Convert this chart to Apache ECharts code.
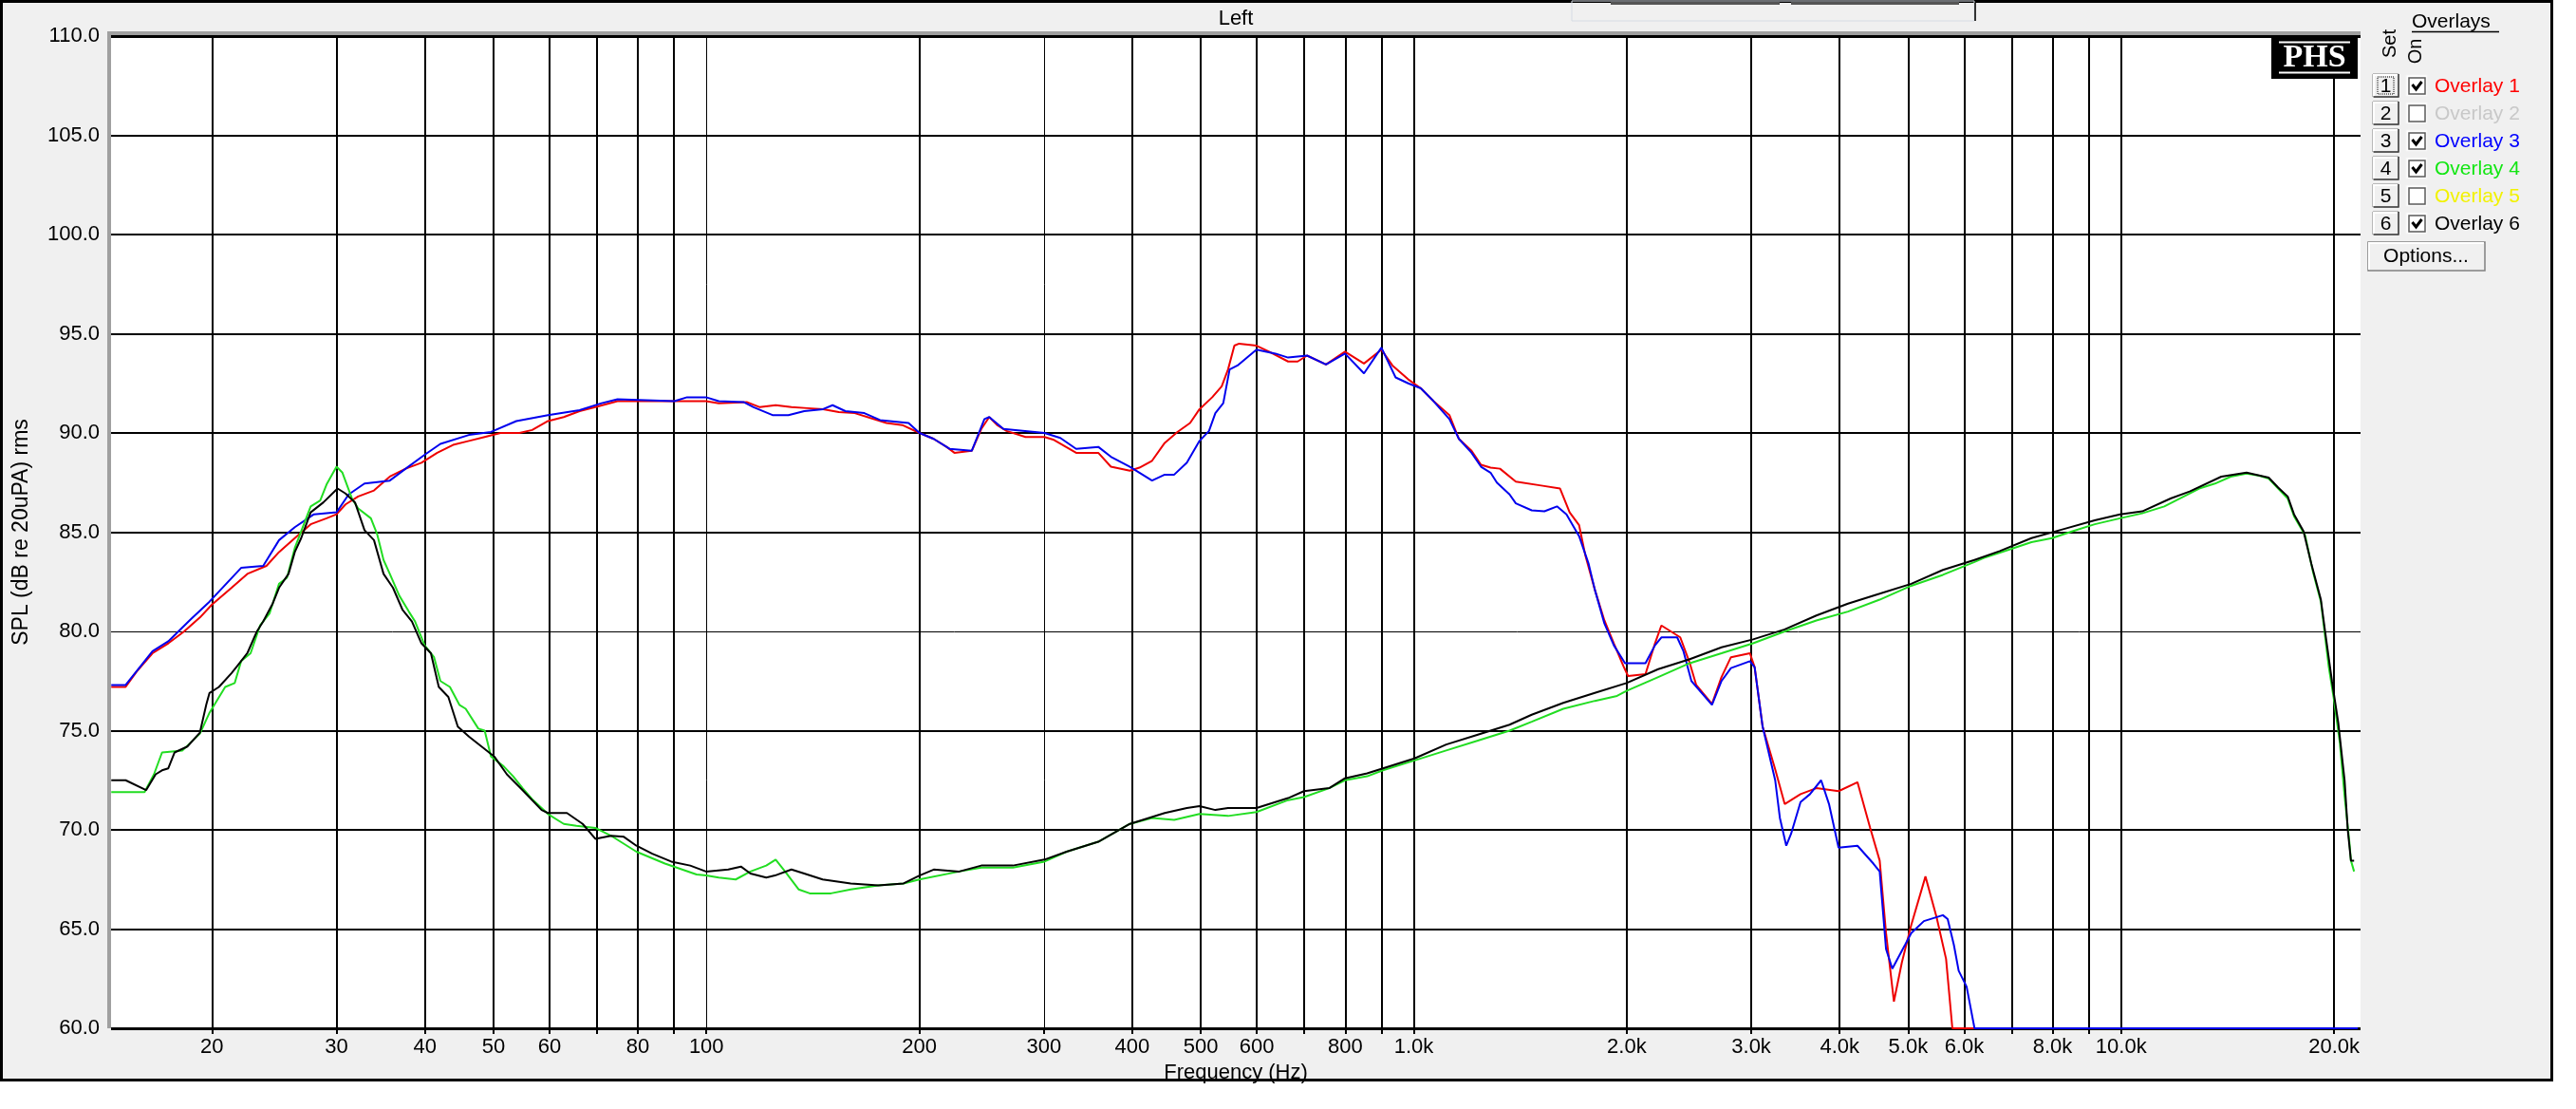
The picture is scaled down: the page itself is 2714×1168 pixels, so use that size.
<!DOCTYPE html>
<html>
<head>
<meta charset="utf-8">
<script src="https://cdn.jsdelivr.net/npm/echarts@6/dist/echarts.min.js"></script>
<style>
html,body{margin:0;padding:0;background:#fff;}
#chart{width:2714px;height:1168px;}
</style>
</head>
<body>
<div id="chart"></div>
<script>
// ---------------- DATA ----------------
// Overlay 1 (red)
const ov1Freq = [14.41,15.1,15.65,16.48,17.35,18.27,19.23,20.0,21.32,22.44,23.88,24.88,26.19,27.58,29.04,30.0,30.89,32.19,33.89,35.68,37.57,39.55,41.64,43.84,46.16,48.59,51.16,54.42,56.71,59.71,62.86,66.18,69.66,74.87,87.38,99.89,104.1,114.2,119.0,125.3,131.9,138.9,146.2,153.9,162.1,170.6,179.7,189.2,200.1,209.6,218.5,224.2,237.2,244.7,251.1,257.6,265.7,282.6,300.6,310,333.2,358.1,373.1,396.9,409.4,426.6,444.6,463.3,482.8,497.9,518.9,535.2,546.3,557.7,566.4,599.3,624.5,664.3,685.2,706.6,751.5,799.4,850.4,900,933,982.2,1023.5,1066.6,1123,1158.3,1207,1244.7,1283.9,1324,1394,1514,1610,1661,1713,1749,1803,1860,1918,1979,2009,2126,2193,2239,2309,2381,2456,2508,2640,2723,2808,2987,3033,3113,3243,3345,3522,3708,3986,4239,4418,4557,4652,4773,4897,5050,5289,5484,5656,5773,21600];
const ov1Spl  = [77.2,77.2,77.97,78.9,79.4,80.0,80.7,81.35,82.2,82.9,83.3,84.0,84.7,85.4,85.7,85.9,86.4,86.8,87.1,87.8,88.2,88.5,89.0,89.4,89.6,89.8,90.0,90.0,90.15,90.6,90.8,91.1,91.3,91.6,91.6,91.6,91.5,91.55,91.3,91.4,91.3,91.25,91.2,91.05,91.0,90.75,90.5,90.4,90.0,89.7,89.3,89.0,89.1,90.2,90.8,90.4,90.1,89.8,89.8,89.65,89.0,89.0,88.3,88.1,88.25,88.6,89.5,90.05,90.5,91.2,91.8,92.35,93.2,94.4,94.5,94.4,94.1,93.6,93.6,93.9,93.45,94.1,93.5,94.2,93.4,92.7,92.25,91.6,90.9,89.7,89.1,88.4,88.25,88.2,87.55,87.35,87.2,86.0,85.35,83.8,82.1,80.55,79.4,78.25,77.75,77.85,79.4,80.3,80.0,79.7,78.4,77.3,76.35,77.7,78.7,78.9,78.2,75.2,73.05,71.3,71.8,72.1,71.95,72.4,70.1,68.45,64.8,61.35,63.3,65.2,67.65,65.6,63.5,60.0,60.0];

// Overlay 3 (blue)
const ov3Freq = [14.41,15.1,15.65,16.48,17.35,18.65,19.84,21.99,23.63,24.88,26.19,27.87,30.0,31.21,32.86,35.68,37.57,39.96,42.07,46.16,49.6,53.86,59.71,66.18,71.11,74.87,90.11,93.9,99.89,104.1,113.0,116.6,124.0,130.6,137.5,146.2,150.8,157.2,167.2,176.0,193.1,200.1,209.6,220.7,237.2,247.2,251.1,263.0,300.6,316.5,333.2,358.1,373.1,396.9,426.6,444.6,458.5,477.8,497.9,513.5,524.2,537.9,549.1,563.4,599.3,637.5,664.3,706.6,751.5,799.4,850.4,900,942.6,982.2,1023.5,1066.6,1123,1158.3,1207,1244.7,1283.9,1310.6,1366,1394,1468,1530,1594,1644,1713,1767,1803,1860,1918,1989,2126,2193,2239,2357,2406,2469,2640,2723,2808,2987,3033,3113,3243,3293,3362,3415,3522,3632,3766,3864,3986,4239,4464,4557,4652,4748,4948,5050,5262,5598,5686,5802,5893,6047,6205,21600];
const ov3Spl  = [77.3,77.3,78.0,79.0,79.5,80.6,81.5,83.2,83.3,84.6,85.25,85.9,86.0,86.9,87.45,87.6,88.2,88.9,89.45,89.9,90.05,90.6,90.9,91.15,91.5,91.7,91.6,91.8,91.8,91.6,91.55,91.3,90.9,90.9,91.1,91.2,91.4,91.1,91.0,90.65,90.5,90.0,89.7,89.2,89.1,90.7,90.8,90.2,90.0,89.75,89.2,89.3,88.8,88.3,87.6,87.9,87.9,88.5,89.6,90.1,91.0,91.5,93.2,93.4,94.2,94.0,93.8,93.9,93.45,94.0,93.0,94.3,92.8,92.5,92.25,91.6,90.7,89.7,89.0,88.3,88.0,87.5,86.9,86.45,86.1,86.05,86.3,85.9,84.8,83.4,82.1,80.4,79.3,78.4,78.4,79.3,79.7,79.7,79.0,77.5,76.3,77.5,78.15,78.5,78.2,75.2,72.5,70.6,69.2,69.8,71.4,71.8,72.5,71.3,69.1,69.2,68.3,67.9,64.0,63.0,64.2,64.8,65.4,65.7,65.5,64.2,62.9,62.1,60.0,60.0];

// Overlay 4 (green)
const ov4Freq = [14.41,16.06,16.56,17.0,18.17,19.23,19.84,20.88,21.54,21.99,22.68,23.39,24.12,24.88,25.53,26.19,27.58,28.45,29.04,30.0,30.58,31.54,32.19,33.55,34.24,34.96,35.68,36.8,37.96,38.74,39.96,41.21,42.07,43.39,44.75,45.68,47.6,48.59,49.6,51.69,53.31,54.98,56.71,59.71,62.86,65.5,69.66,73.34,79.63,87.38,96.85,99.89,104.1,110,115.4,121.5,125.3,129.2,135,140,150,160,175,190,200,227.7,244.7,271.2,300.6,323,358.1,396.9,426.6,458.5,497.9,546.3,599.3,664.3,699.4,759.3,799.4,859.2,904.6,1002.6,1111.5,1232,1366,1468,1627,1803,1938,1999,2216,2456,2723,3018,3345,3708,4110,4557,5050,5598,6205,6399,6984,7468,7986,8538,9177,9964,10710,11508,12117,12893,13573,14290,15042,15675,16166,16674,17198,17556,18200,18673,19160,19660,19965,20380,20697,21020,21129,21348];
const ov4Spl  = [71.9,71.9,72.8,73.9,74.0,74.85,75.9,77.2,77.4,78.5,78.9,80.3,80.9,82.4,82.7,84.2,86.3,86.6,87.4,88.3,88.0,86.7,86.2,85.7,84.9,83.6,82.9,81.8,81.0,80.5,79.3,78.7,77.5,77.2,76.3,76.1,75.1,75.0,73.7,73.2,72.7,72.1,71.55,70.8,70.3,70.2,70.1,69.7,68.9,68.3,67.75,67.7,67.6,67.5,67.9,68.2,68.5,67.9,67.0,66.8,66.8,67.0,67.2,67.3,67.5,67.9,68.1,68.1,68.4,68.9,69.4,70.3,70.6,70.5,70.8,70.7,70.9,71.5,71.65,72.1,72.5,72.7,73.0,73.5,74.0,74.5,75.0,75.45,76.1,76.5,76.75,77.0,77.7,78.4,78.9,79.4,80.0,80.55,81.0,81.6,82.3,82.85,83.5,83.7,84.15,84.5,84.7,85.05,85.4,85.7,85.95,86.3,86.7,87.2,87.45,87.8,87.95,87.85,87.7,87.2,86.7,85.8,84.85,83.0,81.5,78.2,76.7,74.4,71.7,69.4,68.45,67.9];

// Overlay 6 (black)
const ov6Freq = [14.41,15.1,16.14,16.65,17.0,17.35,17.71,18.46,19.23,19.63,19.84,20.46,21.32,21.76,22.44,23.15,23.63,24.37,24.88,25.66,26.19,26.74,27.58,28.74,30.1,30.89,31.86,32.86,33.89,34.96,36.05,37.18,38.35,39.55,40.79,41.85,43.17,44.52,46.16,48.1,50.12,52.23,54.98,58.49,59.71,63.51,66.85,69.66,73.34,76.43,79.63,83.84,89.19,94.87,99.89,107.4,111.9,115.4,121.5,125,131.9,137.5,146,160,175,190,200.1,209.6,227.7,244.7,271.2,300.6,323,358.1,396.9,444.6,477.8,497.9,524.2,546.3,599.3,664.3,699.4,759.3,799.4,859.2,904.6,1002.6,1111.5,1232,1366,1468,1627,1803,1999,2216,2456,2723,3018,3345,3708,4110,4557,5050,5598,6205,6737,7468,8280,9177,9964,10710,11748,12500,13855,15042,16166,16674,17198,17556,18107,18577,19160,19458,19862,20275,20697,20911,21129,21348];
const ov6Spl  = [72.5,72.5,72.0,72.8,73.0,73.1,73.9,74.2,74.9,76.3,76.9,77.2,77.9,78.3,78.9,80.0,80.5,81.4,82.2,82.9,84.0,84.7,86.0,86.5,87.2,86.95,86.5,85.1,84.6,82.9,82.2,81.1,80.5,79.4,78.9,77.2,76.7,75.2,74.7,74.2,73.7,72.8,72.0,71.0,70.85,70.85,70.3,69.55,69.7,69.65,69.2,68.8,68.4,68.2,67.9,68.0,68.15,67.8,67.6,67.7,68.0,67.8,67.5,67.3,67.2,67.3,67.7,68.0,67.9,68.2,68.2,68.5,68.9,69.4,70.3,70.85,71.1,71.2,71.0,71.1,71.1,71.6,71.95,72.1,72.6,72.85,73.1,73.6,74.3,74.8,75.3,75.8,76.4,76.9,77.4,78.1,78.6,79.2,79.6,80.1,80.8,81.4,81.9,82.4,83.1,83.6,84.05,84.7,85.15,85.6,85.9,86.05,86.7,87.05,87.8,88.0,87.75,87.25,86.8,85.9,85.05,83.4,81.6,79.8,77.5,75.4,72.5,70.0,68.45,68.45];

// Axis ticks
const xGridValues  = [20,30,40,50,60,70,80,90,100,200,300,400,500,600,700,800,900,1000,2000,3000,4000,5000,6000,7000,8000,9000,10000,20000];
const xLabelValues = [20,30,40,50,60,80,100,200,300,400,500,600,800,1000,2000,3000,4000,5000,6000,8000,10000,20000];
const xThinValues  = [100,300];
const yGridValues  = [60,65,70,75,80,85,90,95,100,105,110];
const yThinValues  = [80];

const overlayNames  = ['Overlay 1','Overlay 2','Overlay 3','Overlay 4','Overlay 5','Overlay 6'];
const overlayOn     = [true,false,true,true,false,true];
const overlayColors = ['#ff0000','#c8c8c8','#0000ff','#12e612','#f2f200','#000000'];

// ---------------- CHART ----------------
const zip = (a, b) => a.map((v, i) => [v, b[i]]);
const FONT = 'Liberation Sans, Arial, sans-serif';

const G = { left: 117, top: 38, width: 2370, height: 1045 };

const gridMarks = [];
xGridValues.forEach(v => gridMarks.push({ xAxis: v, lineStyle: { color: '#000', width: xThinValues.includes(v) ? 1 : 2, type: 'solid' } }));
yGridValues.forEach(v => gridMarks.push({ yAxis: v, lineStyle: { color: '#000', width: (v === 60 || v === 110) ? 3 : (yThinValues.includes(v) ? 1 : 2), type: 'solid' } }));

function fmtFreq(v) {
  const r = Math.round(v);
  return r >= 1000 ? (r / 1000).toFixed(1) + 'k' : String(r);
}

const graphics = [
  { type: 'rect', z: -2, shape: { x: 1.5, y: 1.5, width: 2687, height: 1136 }, style: { fill: '#f0f0f0', stroke: '#000', lineWidth: 3 } },
  { type: 'rect', z: -1, shape: { x: G.left, y: G.top, width: G.width, height: G.height }, style: { fill: '#fff' } },
  { type: 'rect', z: 50, shape: { x: 113, y: 33, width: G.width + 4, height: 4 }, style: { fill: '#a0a0a0' } },
  { type: 'rect', z: 50, shape: { x: 113, y: 33, width: 4, height: G.height + 5 }, style: { fill: '#a0a0a0' } },
  { type: 'text', z: 50, x: 1302, y: 20, style: { text: 'Left', font: '22px ' + FONT, fill: '#000', align: 'center', verticalAlign: 'middle' } },
  { type: 'rect', z: 50, shape: { x: 1656, y: 1, width: 424, height: 21 }, style: { fill: 'none', stroke: '#d6dce4', lineWidth: 1 } },
  { type: 'rect', z: 50, shape: { x: 1697, y: 2, width: 178, height: 3 }, style: { fill: '#555' } },
  { type: 'rect', z: 50, shape: { x: 1887, y: 2, width: 177, height: 3 }, style: { fill: '#555' } },
  { type: 'line', z: 50, shape: { x1: 2081, y1: 3, x2: 2081, y2: 22 }, style: { stroke: '#333', lineWidth: 2 } },
  // PHS logo
  { type: 'rect', z: 60, shape: { x: 2393, y: 39, width: 91, height: 44 }, style: { fill: '#000' } },
  { type: 'line', z: 61, shape: { x1: 2401, y1: 44.5, x2: 2476, y2: 44.5 }, style: { stroke: '#fff', lineWidth: 2 } },
  { type: 'line', z: 61, shape: { x1: 2401, y1: 76.5, x2: 2476, y2: 76.5 }, style: { stroke: '#fff', lineWidth: 2 } },
  { type: 'text', z: 61, x: 2438.5, y: 61, style: { text: 'PHS', font: 'bold 34px Liberation Serif, Times New Roman, serif', fill: '#fff', align: 'center', verticalAlign: 'middle' } },
  // Overlay panel
  { type: 'text', z: 60, x: 2541, y: 23, style: { text: 'Overlays', font: '21px ' + FONT, fill: '#000', align: 'left', verticalAlign: 'middle' } },
  { type: 'line', z: 60, shape: { x1: 2541, y1: 33.5, x2: 2633, y2: 33.5 }, style: { stroke: '#000', lineWidth: 1.5 } },
  { type: 'text', z: 60, x: 2518, y: 46, rotation: Math.PI / 2, style: { text: 'Set', font: '20px ' + FONT, fill: '#000', align: 'center', verticalAlign: 'middle' } },
  { type: 'text', z: 60, x: 2545, y: 54, rotation: Math.PI / 2, style: { text: 'On', font: '20px ' + FONT, fill: '#000', align: 'center', verticalAlign: 'middle' } }
];

overlayNames.forEach((name, i) => {
  const cy = 90 + i * 29;
  graphics.push({ type: 'rect', z: 60, shape: { x: 2500, y: cy - 12, width: 27, height: 24 }, style: { fill: '#f0f0f0', stroke: '#808080', lineWidth: 1 } });
  graphics.push({ type: 'polyline', z: 61, shape: { points: [[2501, cy + 11], [2501, cy - 11], [2526, cy - 11]] }, style: { stroke: '#fff', lineWidth: 2, fill: 'none' } });
  graphics.push({ type: 'polyline', z: 61, shape: { points: [[2501, cy + 12], [2527, cy + 12], [2527, cy - 12]] }, style: { stroke: '#404040', lineWidth: 1.5, fill: 'none' } });
  graphics.push({ type: 'text', z: 62, x: 2513.5, y: cy + 1, style: { text: String(i + 1), font: '21px ' + FONT, fill: '#000', align: 'center', verticalAlign: 'middle' } });
  if (i === 0) {
    graphics.push({ type: 'rect', z: 62, shape: { x: 2505, y: cy - 9, width: 17, height: 18 }, style: { fill: 'none', stroke: '#000', lineWidth: 1, lineDash: [1, 1] } });
  }
  graphics.push({ type: 'rect', z: 60, shape: { x: 2535, y: cy - 11, width: 22, height: 22 }, style: { fill: '#fff', stroke: '#f4f4f4', lineWidth: 1 } });
  graphics.push({ type: 'rect', z: 61, shape: { x: 2538, y: cy - 8, width: 17, height: 17 }, style: { fill: '#fff', stroke: '#5a5a5a', lineWidth: 1.5 } });
  if (overlayOn[i]) {
    graphics.push({ type: 'polyline', z: 62, shape: { points: [[2541.5, cy - 1], [2545.5, cy + 4], [2551.5, cy - 4]] }, style: { stroke: '#000', lineWidth: 3, fill: 'none' } });
  }
  graphics.push({ type: 'text', z: 60, x: 2565, y: cy + 1, style: { text: name, font: '21px ' + FONT, fill: overlayColors[i], align: 'left', verticalAlign: 'middle' } });
});
graphics.push({ type: 'rect', z: 60, shape: { x: 2495, y: 255, width: 123, height: 30 }, style: { fill: '#f0f0f0', stroke: '#808080', lineWidth: 1.5 } });
graphics.push({ type: 'polyline', z: 61, shape: { points: [[2496, 284], [2496, 256], [2617, 256]] }, style: { stroke: '#fff', lineWidth: 2, fill: 'none' } });
graphics.push({ type: 'text', z: 61, x: 2556, y: 270, style: { text: 'Options...', font: '21px ' + FONT, fill: '#000', align: 'center', verticalAlign: 'middle' } });

const lineSeries = (name, f, s, color, z) => ({
  name, type: 'line', data: zip(f, s), symbol: 'none', showSymbol: false, silent: true, z, clip: false,
  lineStyle: { color, width: 2 }, itemStyle: { color }, animation: false
});

const chart = echarts.init(document.getElementById('chart'), null, { renderer: 'canvas' });
chart.setOption({
  animation: false,
  backgroundColor: '#ffffff',
  grid: { left: G.left, top: G.top, width: G.width, height: G.height, containLabel: false, show: false },
  xAxis: {
    type: 'log', logBase: 10, min: 14.4, max: 21800,
    name: 'Frequency (Hz)', nameLocation: 'middle', nameGap: 34,
    nameTextStyle: { fontFamily: FONT, fontSize: 22, color: '#000' },
    axisLine: { show: false },
    axisTick: { show: true, customValues: xGridValues, length: 6, lineStyle: { color: '#000', width: 2 } },
    axisLabel: { show: true, customValues: xLabelValues, formatter: fmtFreq, fontFamily: FONT, fontSize: 22, color: '#000', margin: 9 },
    splitLine: { show: false }, minorTick: { show: false }, minorSplitLine: { show: false }
  },
  yAxis: {
    type: 'value', min: 60, max: 110, interval: 5,
    name: 'SPL (dB re 20uPA) rms', nameLocation: 'middle', nameGap: 83, nameRotate: 90,
    nameTextStyle: { fontFamily: FONT, fontSize: 23, color: '#000' },
    axisLine: { show: false }, axisTick: { show: false },
    axisLabel: { formatter: v => v.toFixed(1), fontFamily: FONT, fontSize: 22, color: '#000', margin: 12 },
    splitLine: { show: false }
  },
  graphic: { elements: graphics },
  series: [
    { name: 'grid', type: 'line', data: [], z: 1, silent: true,
      markLine: { z: 1, symbol: ['none', 'none'], silent: true, animation: false, label: { show: false }, emphasis: { disabled: true }, data: gridMarks } },
    lineSeries('Overlay 1', ov1Freq, ov1Spl, '#ee0000', 10),
    lineSeries('Overlay 3', ov3Freq, ov3Spl, '#0000ee', 11),
    lineSeries('Overlay 4', ov4Freq, ov4Spl, '#22dd22', 12),
    lineSeries('Overlay 6', ov6Freq, ov6Spl, '#000000', 13)
  ]
});
</script>
</body>
</html>
